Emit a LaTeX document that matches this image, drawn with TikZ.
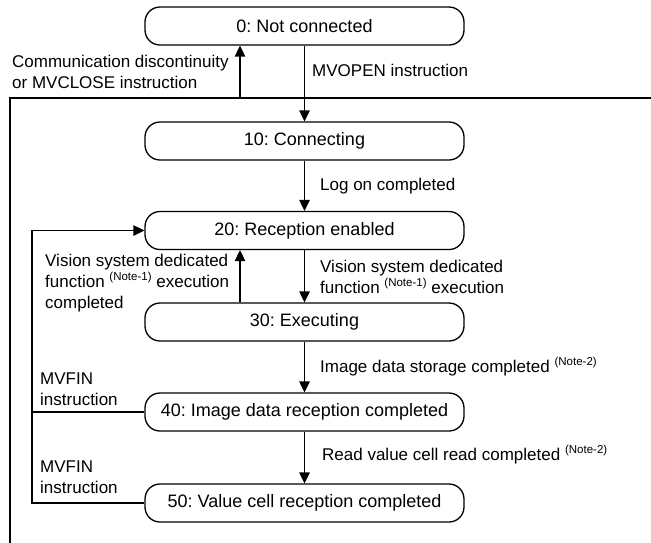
\documentclass[tikz,border=0pt]{standalone}
\usepackage{fontspec}
\setmainfont{Liberation Sans}
\usetikzlibrary{arrows.meta}
\frenchspacing
\newcommand{\notesup}[1]{\raisebox{0.42em}{\fontsize{11.5}{12}\selectfont (Note-#1)}}
\begin{document}
\begin{tikzpicture}[x=1pt,y=-1pt,
  state/.style={draw, line width=1.3pt, rounded corners=15pt, minimum width=319pt, minimum height=38pt, inner sep=0pt, font=\fontsize{18}{21}\selectfont},
  lbl/.style={anchor=west, align=left, inner sep=0pt, font=\fontsize{17}{21}\selectfont},
  ln/.style={line width=1.4pt},
  arr/.style={line width=1.4pt, -{Triangle[length=11pt,width=10.5pt]}}]
\useasboundingbox (0,0) rectangle (651,542);
\node[state] (n0) at (304.5,26) {0: Not connected};
\node[state] (n10) at (304.5,141) {10: Connecting};
\node[state] (n20) at (304.5,230.5) {20: Reception enabled};
\node[state] (n30) at (304.5,322) {30: Executing};
\node[state] (n40) at (304.5,412) {40: Image data reception completed};
\node[state] (n50) at (304.5,503) {50: Value cell reception completed};
\coordinate (L) at (240,0);
\coordinate (M) at (32,0);
\coordinate (fTL) at (10,98);
\coordinate (fTR) at (652,98);
\coordinate (fBL) at (10,545);
% frame
\draw[ln] (fBL) -- (fTL) -- (fTR);
% arrows
\draw[arr] (fTL -| L) -- (n0.south -| L);
\draw[arr] (n0.south) -- (n10.north);
\draw[arr] (n10.south) -- (n20.north);
\draw[arr] (n20.south) -- (n30.north);
\draw[arr] (n30.north -| L) -- (n20.south -| L);
\draw[arr] (n30.south) -- (n40.north);
\draw[arr] (n40.south) -- (n50.north);
\draw[arr] (n50.west) -- (n50.west -| M) -- (n20.west -| M) -- (n20.west);
\draw[ln] (n40.west) -- (n40.west -| M);
% labels
\node[lbl] (tcomm) at (12,72) {Communication discontinuity\\or MVCLOSE instruction};
\node[lbl] (topen) at (312,70) {MVOPEN instruction};
\node[lbl] (tlog) at (320,186) {Log on completed};
\node[lbl] (tvisl) at (45,283) {Vision system dedicated\\function \notesup{1} execution\\completed};
\node[lbl] (tvisr) at (320,277) {Vision system dedicated\\function \notesup{1} execution};
\node[lbl] (timg) at (320,367) {Image data storage completed \notesup{2}};
\node[lbl] (tfin1) at (40,389) {MVFIN\\instruction};
\node[lbl] (tread) at (322,455) {Read value cell read completed \notesup{2}};
\node[lbl] (tfin2) at (40,477) {MVFIN\\instruction};
\end{tikzpicture}
\end{document}
